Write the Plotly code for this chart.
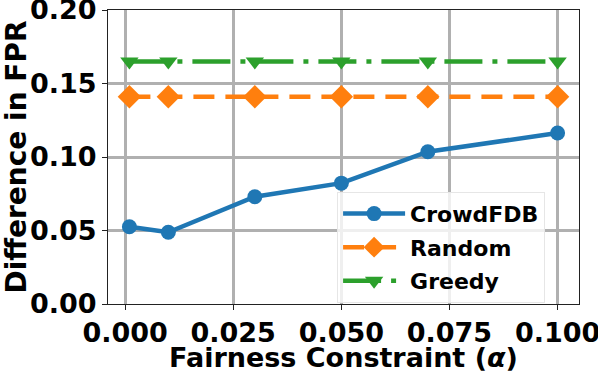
import plotly.graph_objects as go

alpha = [0.001, 0.01, 0.03, 0.05, 0.07, 0.1]
crowdfdb = [0.0526, 0.0488, 0.073, 0.0822, 0.1036, 0.1163]
random_v = [0.141, 0.141, 0.141, 0.141, 0.141, 0.141]
greedy = [0.165, 0.165, 0.165, 0.165, 0.165, 0.165]
x_ticks = [0.0, 0.025, 0.05, 0.075, 0.1]
x_ticklabels = ["0.000", "0.025", "0.050", "0.075", "0.100"]
y_ticks = [0, 0.05, 0.1, 0.15, 0.2]
y_ticklabels = ["0.00", "0.05", "0.10", "0.15", "0.20"]

fig = go.Figure()
fig.add_trace(go.Scatter(x=alpha, y=crowdfdb, name="CrowdFDB", mode="lines+markers",
                         legendgroup="a",
                         line=dict(color="#1f77b4", width=4.5),
                         marker=dict(symbol="circle", size=15, color="#1f77b4")))
fig.add_trace(go.Scatter(x=alpha, y=random_v, name="Random", mode="lines+markers",
                         legendgroup="b",
                         line=dict(color="#ff7f0e", width=4.5, dash="21px,11px"),
                         marker=dict(symbol="diamond", size=18, color="#ff7f0e")))
fig.add_trace(go.Scatter(x=alpha, y=greedy, name="Greedy", mode="lines+markers",
                         legendgroup="c",
                         line=dict(color="#2ca02c", width=4.5, dash="38px,10px,5px,10px"),
                         marker=dict(symbol="triangle-down", size=16, color="#2ca02c")))

font_family = "DejaVu Sans"
fig.update_layout(
    width=598, height=373,
    margin=dict(l=108, r=19, t=10, b=69),
    paper_bgcolor="white", plot_bgcolor="white",
    font=dict(family=font_family, color="black"),
    showlegend=True,
    legend=dict(x=0.928, y=0.004, xanchor="right", yanchor="bottom",
                bgcolor="rgba(255,255,255,0.8)", bordercolor="#e6e6e6", borderwidth=1,
                font=dict(family=font_family, size=22, color="black", weight="bold"),
                itemwidth=62, tracegroupgap=2),
)
fig.update_xaxes(range=[-0.00395, 0.10495], tickvals=x_ticks, ticktext=x_ticklabels,
                 automargin=False, ticklabeloverflow="allow",
                 showgrid=True, gridcolor="#b0b0b0", gridwidth=2.5,
                 showline=True, linecolor="#222222", linewidth=1, mirror=True,
                 ticks="outside", ticklen=5, tickcolor="#222222", zeroline=False,
                 tickfont=dict(family=font_family, size=27, color="black", weight="bold"),
                 title=dict(text="Fairness Constraint (<i>α</i>)", standoff=0,
                            font=dict(family=font_family, size=27, color="black", weight="bold")))
fig.update_yaxes(range=[0, 0.20001], tickvals=y_ticks, ticktext=y_ticklabels,
                 automargin=False, ticklabeloverflow="allow",
                 showgrid=True, gridcolor="#b0b0b0", gridwidth=2.5,
                 showline=True, linecolor="#222222", linewidth=1, mirror=True,
                 ticks="outside", ticklen=5, tickcolor="#222222", zeroline=False,
                 tickfont=dict(family=font_family, size=27, color="black", weight="bold"),
                 title=dict(text="Difference in FPR", standoff=0,
                            font=dict(family=font_family, size=28, color="black", weight="bold")))
fig.write_html("out.html", config={"displayModeBar": False},
               post_script="document.body.style.margin='0';document.body.style.overflow='hidden';")
